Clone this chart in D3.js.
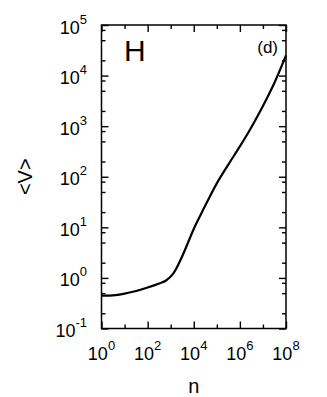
<!DOCTYPE html>
<html>
<head>
<meta charset="utf-8">
<script src="https://cdn.jsdelivr.net/npm/d3@7"></script>
<style>
  html, body { margin: 0; padding: 0; background: #fff; }
  svg { display: block; font-family: "Liberation Sans", Arial, Helvetica, sans-serif; }
</style>
</head>
<body>
<svg id="chart" width="327" height="397"></svg>
<script>
// ---- data ----
const nValues = [1, 3.16, 10, 31.6, 100, 316, 631, 1260, 2510, 5010, 10000, 20000, 39800, 100000, 316000, 1000000, 3160000, 10000000, 31600000, 100000000];
const vValues = [0.447, 0.452, 0.49, 0.55, 0.645, 0.776, 0.89, 1.2, 2.14, 4.37, 9.3, 17.8, 33.1, 74, 174, 398, 955, 2510, 7240, 25100];
const xTickExps = [0, 1, 2, 3, 4, 5, 6, 7, 8];
const xLabelExps = [0, 2, 4, 6, 8];
const yTickExps = [-1, 0, 1, 2, 3, 4, 5];
const yMinorMult = [2, 5, 8];
const panelLetter = "H";
const panelTag = "(d)";
const xTitle = "n";
const yTitle = "<V>";

// ---- layout ----
const svg = d3.select("#chart");
const L = 101.5, R = 286, T = 25, B = 328.5;
const x = d3.scaleLog().domain([1, 1e8]).range([L, R]);
const y = d3.scaleLog().domain([0.1, 1e5]).range([B, T]);
const MAJ = 7, MIN = 4;

const xMajor = xTickExps.filter(e => e % 2 === 0).map(e => Math.pow(10, e));
const xMinor = xTickExps.filter(e => e % 2 !== 0).map(e => Math.pow(10, e));
const yMajor = yTickExps.map(e => Math.pow(10, e));
const yMinor = [];
yTickExps.forEach(e => { if (e < 5) yMinorMult.forEach(m => yMinor.push(m * Math.pow(10, e))); });

// ticks pointing inward on every side
function tickAxis(axisFn, scale, vals, size, tr) {
  const g = svg.append("g").attr("transform", tr)
    .call(axisFn(scale).tickValues(vals).tickSize(-size).tickFormat(""));
  g.select(".domain").remove();
  g.selectAll("line").attr("stroke", "#000").attr("stroke-width", 1.4);
}
tickAxis(d3.axisBottom, x, xMajor, MAJ, `translate(0,${B})`);
tickAxis(d3.axisBottom, x, xMinor, MIN, `translate(0,${B})`);
tickAxis(d3.axisTop, x, xMajor, MAJ, `translate(0,${T})`);
tickAxis(d3.axisTop, x, xMinor, MIN, `translate(0,${T})`);
tickAxis(d3.axisLeft, y, yMajor, MAJ, `translate(${L},0)`);
tickAxis(d3.axisLeft, y, yMinor, MIN, `translate(${L},0)`);
tickAxis(d3.axisRight, y, yMajor, MAJ, `translate(${R},0)`);
tickAxis(d3.axisRight, y, yMinor, MIN, `translate(${R},0)`);

// frame
svg.append("rect").attr("x", L).attr("y", T).attr("width", R - L).attr("height", B - T)
  .attr("fill", "none").attr("stroke", "#000").attr("stroke-width", 1.5);

// x labels
xLabelExps.forEach(e => {
  const t = svg.append("text").attr("x", x(Math.pow(10, e))).attr("y", B + 31.5)
    .attr("text-anchor", "middle").attr("font-size", 18).attr("fill", "#000");
  t.append("tspan").text("10");
  t.append("tspan").attr("dy", -10).attr("font-size", 13).text(String(e));
});
// y labels
yTickExps.forEach(e => {
  const t = svg.append("text").attr("x", 87).attr("y", y(Math.pow(10, e)) + 8.5)
    .attr("text-anchor", "end").attr("font-size", 18).attr("fill", "#000");
  t.append("tspan").text("10");
  t.append("tspan").attr("dy", -10).attr("font-size", 13).text(String(e));
});

// titles
svg.append("text").attr("x", (L + R) / 2).attr("y", 393).attr("text-anchor", "middle")
  .attr("font-size", 20).text(xTitle);
svg.append("text").attr("transform", `translate(31.5,${(T + B) / 2}) rotate(-90)`)
  .attr("text-anchor", "middle").attr("font-size", 20).text(yTitle);
svg.append("text").attr("x", 124).attr("y", 61).attr("font-size", 30).text(panelLetter);
svg.append("text").attr("x", 278).attr("y", 52.5).attr("text-anchor", "end").attr("font-size", 17).text(panelTag);

// curve
const data = nValues.map((n, i) => ({ n, v: vValues[i] }));
svg.append("path").datum(data)
  .attr("fill", "none").attr("stroke", "#000").attr("stroke-width", 2.2)
  .attr("d", d3.line().x(d => x(d.n)).y(d => y(d.v)).curve(d3.curveCatmullRom));
</script>
</body>
</html>
